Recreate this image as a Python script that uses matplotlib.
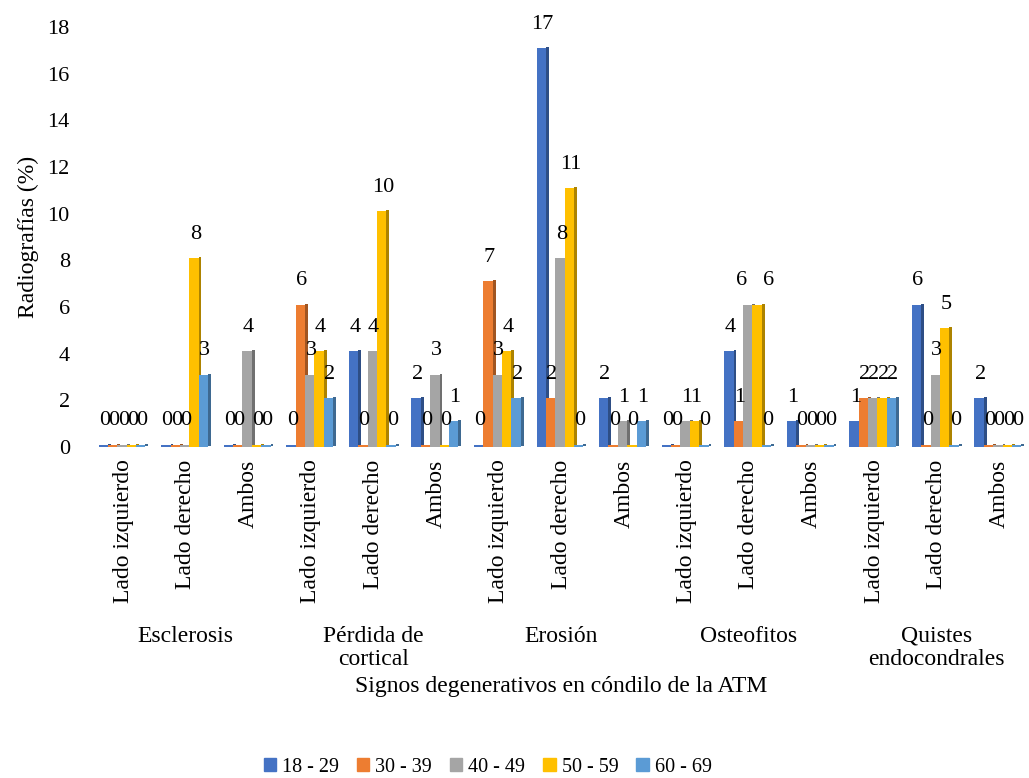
import matplotlib.pyplot as plt
import numpy as np
from matplotlib.transforms import blended_transform_factory
from matplotlib.patches import Patch
from matplotlib.colors import to_rgb

plt.rcParams['font.family'] = ['Liberation Serif', 'DejaVu Serif']

categories = ['Esclerosis', 'Pérdida de\ncortical', 'Erosión', 'Osteofitos', 'Quistes\nendocondrales']
sides = ['Lado izquierdo', 'Lado derecho', 'Ambos']
series = ['18 - 29', '30 - 39', '40 - 49', '50 - 59', '60 - 69']
colors = ['#4472C4', '#ED7D31', '#A5A5A5', '#FFC000', '#5B9BD5']

# one list per age group, 15 values (category x side)
v18_29 = [0, 0, 0, 0, 4, 2, 0, 17, 2, 0, 4, 1, 1, 6, 2]
v30_39 = [0, 0, 0, 6, 0, 0, 7, 2, 0, 0, 1, 0, 2, 0, 0]
v40_49 = [0, 0, 4, 3, 4, 3, 3, 8, 1, 1, 6, 0, 2, 3, 0]
v50_59 = [0, 8, 0, 4, 10, 0, 4, 11, 0, 1, 6, 0, 2, 5, 0]
v60_69 = [0, 3, 0, 2, 0, 1, 2, 0, 1, 0, 0, 0, 2, 0, 0]
values = [v18_29, v30_39, v40_49, v50_59, v60_69]

# labels nudged sideways where they would collide (group, series): dx
nudge = {(10, 2): -0.12, (10, 3): 0.17}

fig = plt.figure(figsize=(10.29, 7.78), dpi=100)
ax = fig.add_axes([0.0894, 0.4254, 0.912, 0.5399])

n = len(categories) * len(sides)
x = np.arange(n)
w = 0.15
for k, (vals, col) in enumerate(zip(values, colors)):
    xs = x + (k - 2) * w - 0.02
    h = np.array(vals, dtype=float) + 0.1
    dark = tuple(c * 0.68 for c in to_rgb(col))
    # side face for a slight 3D look
    ax.bar(xs + w * 0.5 + w * 0.15, h, bottom=0.05, width=w * 0.3, color=dark, zorder=2)
    ax.bar(xs, h, width=w, color=col, zorder=3)
    for g, (xi, v) in enumerate(zip(xs, vals)):
        dx = nudge.get((g, k), 0)
        ax.text(xi + 0.02 + dx, v + 0.72, str(v), ha='center', va='bottom', fontsize=16, zorder=4)

ax.set_xlim(-0.5, n - 0.5)
ax.set_ylim(0, 18)
ax.set_yticks(range(0, 19, 2))
ax.tick_params(axis='y', length=0, labelsize=16, pad=16)
ax.set_xticks(x)
ax.set_xticklabels(sides * len(categories), rotation=90, fontsize=17)
ax.tick_params(axis='x', length=0, pad=9)
for s in ax.spines.values():
    s.set_visible(False)
ax.set_ylabel('Radiografías (%)', fontsize=17, labelpad=6)

tr = blended_transform_factory(ax.transData, fig.transFigure)
for i, cat in enumerate(categories):
    ax.text(3 * i + 1, 0.196, cat, transform=tr, ha='center', va='top',
            fontsize=17, linespacing=1.15)

fig.text(0.545, 0.117, 'Signos degenerativos en cóndilo de la ATM', ha='center', va='center', fontsize=17)

handles = [Patch(color=c, label=s) for c, s in zip(colors, series)]
fig.legend(handles=handles, loc='center', bbox_to_anchor=(0.474, 0.014), ncol=5, frameon=False,
           fontsize=14.5, handlelength=0.6, handleheight=0.6, handletextpad=0.3, columnspacing=0.9)

fig.savefig('out.png', dpi=100)
